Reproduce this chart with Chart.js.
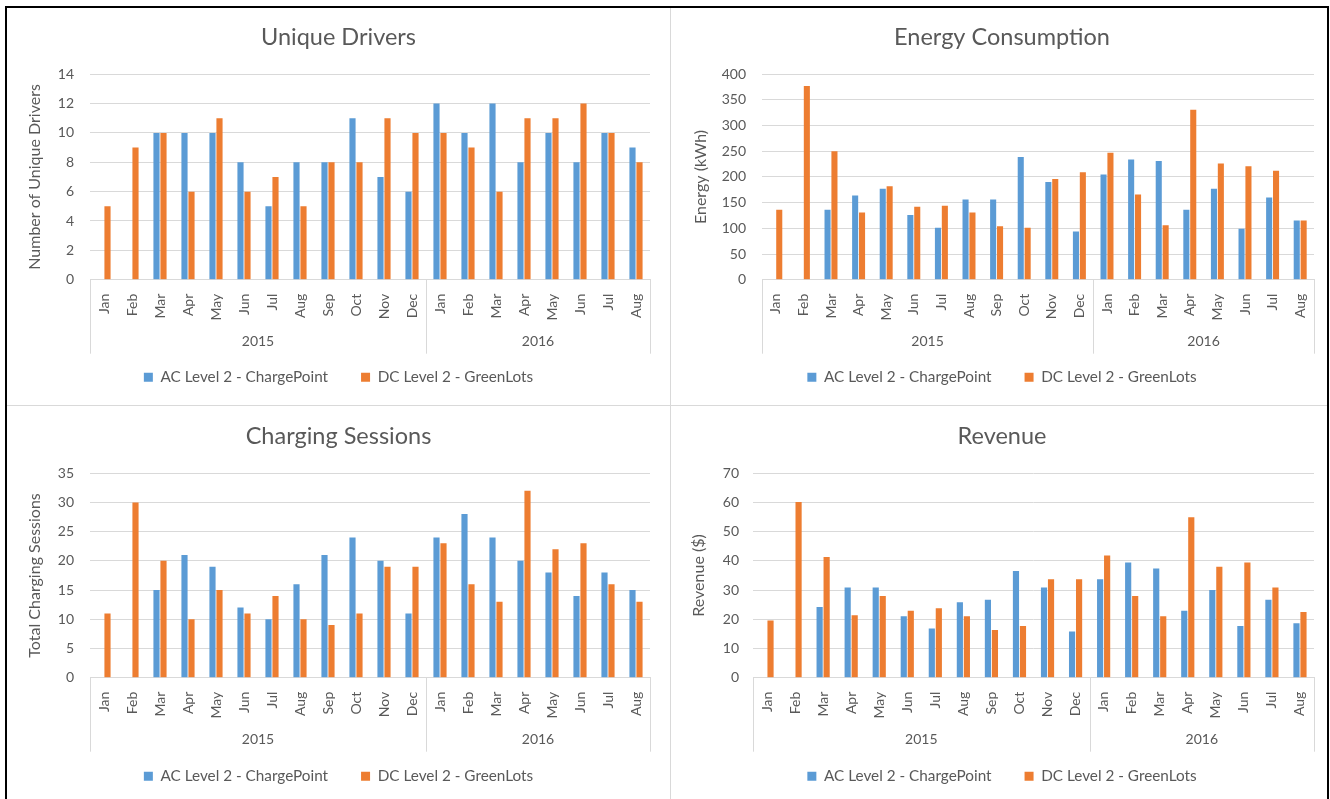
<!DOCTYPE html>
<html>
<head>
<meta charset="utf-8">
<script src="https://cdn.jsdelivr.net/npm/chart.js@4.4.1/dist/chart.umd.min.js"></script>
<style>
  html, body { margin: 0; padding: 0; background: #ffffff; }
  body { width: 1330px; height: 799px; position: relative; overflow: hidden; }
  .frame { position: absolute; left: 5px; top: 6px; width: 1320px; height: 800px;
           border-left: 2px solid #000; border-top: 2px solid #000; border-right: 2px solid #000; }
  .vdiv { position: absolute; left: 670px; top: 8px; width: 1px; height: 791px; background: #d9d9d9; }
  .hdiv { position: absolute; left: 7px; top: 405px; width: 1320px; height: 1px; background: #d9d9d9; }
  canvas { position: absolute; }
</style>
</head>
<body>
<div class="frame"></div>
<div class="vdiv"></div>
<div class="hdiv"></div>
<canvas id="c1" width="662" height="396" style="left:7px;top:8px"></canvas>
<canvas id="c2" width="657" height="396" style="left:671px;top:8px"></canvas>
<canvas id="c3" width="662" height="392" style="left:7px;top:407px"></canvas>
<canvas id="c4" width="657" height="392" style="left:671px;top:407px"></canvas>
<script>
// ---- categories ----
const months = ['Jan','Feb','Mar','Apr','May','Jun','Jul','Aug','Sep','Oct','Nov','Dec',
                'Jan','Feb','Mar','Apr','May','Jun','Jul','Aug'];
const yearLabels = ['2015', '2016'];
const yearSpans = [12, 8];
const seriesNames = ['AC Level 2 - ChargePoint', 'DC Level 2 - GreenLots'];

// ---- Unique Drivers ----
const driversAC = [null, null, 10, 10, 10, 8, 5, 8, 8, 11, 7, 6, 12, 10, 12, 8, 10, 8, 10, 9];
const driversDC = [5, 9, 10, 6, 11, 6, 7, 5, 8, 8, 11, 10, 10, 9, 6, 11, 11, 12, 10, 8];

// ---- Energy Consumption (kWh) ----
const energyAC = [null, null, 136, 164, 177, 126, 101, 156, 156, 239, 190, 94, 205, 234, 231, 136, 177, 99, 160, 115];
const energyDC = [136, 377, 250, 131, 182, 142, 144, 131, 104, 101, 196, 209, 247, 166, 106, 331, 226, 221, 212, 115];

// ---- Charging Sessions ----
const sessionsAC = [null, null, 15, 21, 19, 12, 10, 16, 21, 24, 20, 11, 24, 28, 24, 20, 18, 14, 18, 15];
const sessionsDC = [11, 30, 20, 10, 15, 11, 14, 10, 9, 11, 19, 19, 23, 16, 13, 32, 22, 23, 16, 13];

// ---- Revenue ($) ----
const revenueAC = [null, null, 24.2, 30.9, 30.9, 21.0, 16.8, 25.8, 26.7, 36.5, 30.9, 15.8, 33.7, 39.4, 37.4, 22.9, 30.0, 17.7, 26.7, 18.6];
const revenueDC = [19.6, 60.1, 41.3, 21.4, 28.0, 22.9, 23.8, 21.0, 16.3, 17.7, 33.7, 33.7, 41.8, 28.0, 21.0, 54.9, 38.0, 39.4, 30.9, 22.5];

const BLUE = '#5B9BD5';
const ORANGE = '#ED7D31';
const TEXT = '#595959';
const GRID = '#d9d9d9';
const FONT = 'Lato, "Open Sans", sans-serif';

const yearGroupPlugin = {
  id: 'yearGroups',
  afterDraw(chart, args, opts) {
    const x = chart.scales.x;
    const ctx = chart.ctx;
    const top = chart.chartArea.bottom;
    const bottom = top + opts.depth;
    ctx.save();
    ctx.strokeStyle = GRID;
    ctx.lineWidth = 1;
    const edges = [x.getPixelForValue(-0.5)];
    let idx = 0;
    yearSpans.forEach(s => { idx += s; edges.push(x.getPixelForValue(idx - 0.5)); });
    edges.forEach(px => {
      const p = Math.round(px) + 0.5;
      ctx.beginPath(); ctx.moveTo(p, top); ctx.lineTo(p, bottom); ctx.stroke();
    });
    ctx.fillStyle = TEXT;
    ctx.font = '14px ' + FONT;
    ctx.textAlign = 'center';
    ctx.textBaseline = 'middle';
    yearLabels.forEach((lab, i) => {
      ctx.fillText(lab, (edges[i] + edges[i + 1]) / 2, top + opts.labelOffset);
    });
    ctx.restore();
  }
};

function makeChart(id, title, yTitle, ac, dc, yMax, yStep, lay) {
  return new Chart(document.getElementById(id), {
    type: 'bar',
    data: {
      labels: months,
      datasets: [
        { label: seriesNames[0], data: ac, backgroundColor: BLUE, borderWidth: 0 },
        { label: seriesNames[1], data: dc, backgroundColor: ORANGE, borderWidth: 0 }
      ]
    },
    options: {
      responsive: false,
      animation: false,
      datasets: { bar: { categoryPercentage: 0.5, barPercentage: 0.88 } },
      layout: { padding: { left: lay.left, right: lay.right, top: 4, bottom: lay.bottom } },
      scales: {
        x: {
          grid: { display: false },
          border: { display: true, color: GRID, width: 1 },
          ticks: { autoSkip: false, minRotation: 90, maxRotation: 90, padding: 6,
                   color: TEXT, font: { family: FONT, size: 14 } },
          afterFit(s) { s.height = lay.xHeight; }
        },
        y: {
          min: 0, max: yMax,
          grid: { color: GRID, lineWidth: 1, drawTicks: false },
          border: { display: false },
          ticks: { stepSize: yStep, padding: lay.tickPad, color: TEXT, font: { family: FONT, size: 14 } },
          title: { display: true, text: yTitle, color: TEXT, font: { family: FONT, size: 16 },
                   padding: { top: lay.yTitlePad, bottom: 0 } },
          afterFit(s) { s.width = lay.yWidth; }
        }
      },
      plugins: {
        title: { display: true, text: title, color: TEXT, font: { family: FONT, size: 23.5, weight: 'normal' },
                 padding: { top: 11, bottom: 23 } },
        legend: {
          position: 'bottom',
          labels: { color: TEXT, font: { family: FONT, size: 15.3 }, boxWidth: 9, boxHeight: 9, padding: 33 }
        },
        tooltip: { enabled: false },
        yearGroups: { depth: 74, labelOffset: 62 }
      }
    },
    plugins: [yearGroupPlugin]
  });
}

makeChart('c1', 'Unique Drivers', 'Number of Unique Drivers', driversAC, driversDC, 14, 2,
          { left: 20, right: 19, bottom: 9, xHeight: 57, yWidth: 63, tickPad: 16, yTitlePad: -2 });
makeChart('c2', 'Energy Consumption', 'Energy (kWh)', energyAC, energyDC, 400, 50,
          { left: 19, right: 14, bottom: 9, xHeight: 57, yWidth: 72, tickPad: 16, yTitlePad: 1 });
makeChart('c3', 'Charging Sessions', 'Total Charging Sessions', sessionsAC, sessionsDC, 35, 5,
          { left: 20, right: 19, bottom: 5, xHeight: 58, yWidth: 63, tickPad: 16, yTitlePad: -2 });
makeChart('c4', 'Revenue', 'Revenue ($)', revenueAC, revenueDC, 70, 10,
          { left: 19, right: 14, bottom: 5, xHeight: 58, yWidth: 63, tickPad: 14, yTitlePad: -1 });
</script>
</body>
</html>
